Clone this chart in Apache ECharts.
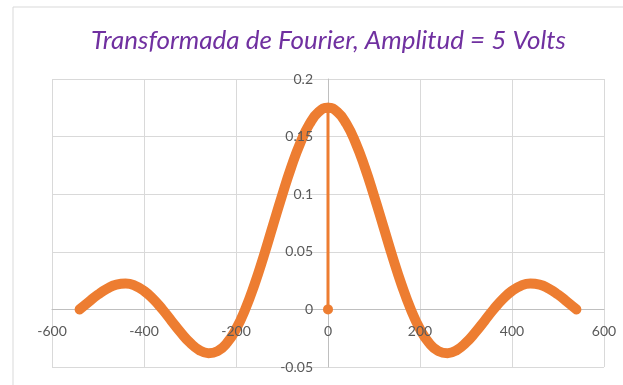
<!DOCTYPE html>
<html>
<head>
<meta charset="utf-8">
<script src="https://cdn.jsdelivr.net/npm/echarts@6/dist/echarts.min.js"></script>
<style>
  html, body { margin: 0; padding: 0; background: #fff; }
  #chart { width: 623px; height: 385px; }
</style>
</head>
<body>
<div id="chart"></div>
<script>
// frecuencia (eje x) y amplitud de la transformada
var freq = [-540, -520, -500, -480, -460, -440, -420, -400, -380, -360, -340, -320, -300, -280,
  -260, -240, -220, -200, -180, -160, -140, -120, -100, -80, -60, -40, -20, 0,
  20, 40, 60, 80, 100, 120, 140, 160, 180, 200, 220, 240, 260, 280,
  300, 320, 340, 360, 380, 400, 420, 440, 460, 480, 500, 520, 540];
var amp = [0, 0.0066, 0.0129, 0.0181, 0.0215, 0.0224, 0.0207, 0.0161, 0.0090, 0, -0.0101, -0.0201, -0.0289, -0.0353,
  -0.0380, -0.0362, -0.0293, -0.0171, 0, 0.0214, 0.0460, 0.0724, 0.0987, 0.1234, 0.1447, 0.1611, 0.1715, 0.175,
  0.1715, 0.1611, 0.1447, 0.1234, 0.0987, 0.0724, 0.0460, 0.0214, 0, -0.0171, -0.0293, -0.0362, -0.0380, -0.0353,
  -0.0289, -0.0201, -0.0101, 0, 0.0090, 0.0161, 0.0207, 0.0224, 0.0215, 0.0181, 0.0129, 0.0066, 0];
// linea vertical en f = 0
var stemX = [0, 0];
var stemY = [0, 0.175];

var curve = freq.map(function (f, i) { return [f, amp[i]]; });
var stem = stemX.map(function (x, i) { return [x, stemY[i]]; });

// grid en pixeles, los ejes se cruzan en (0,0)
var gLeft = 52, gRight = 19, gTop = 79, gBottom = 18;
var gW = 623 - gLeft - gRight, gH = 385 - gTop - gBottom;
var lbl = { color: '#595959', fontSize: 14, fontFamily: 'Lato', margin: 15 };

var myChart = echarts.init(document.getElementById('chart'));
myChart.setOption({
  animation: false,
  title: {
    text: 'Transformada de Fourier, Amplitud = 5 Volts',
    left: 86,
    top: 23,
    textStyle: { color: '#7030A0', fontStyle: 'italic', fontWeight: 'normal', fontSize: 26, fontFamily: 'Lato' }
  },
  graphic: [{
    type: 'polyline',
    shape: { points: [[13, 385], [13, 7], [623, 7]] },
    style: { stroke: '#d9d9d9', fill: null, lineWidth: 1 }
  }],
  grid: { left: gLeft, right: gRight, top: gTop, bottom: gBottom },
  xAxis: [{
    // lineas de rejilla y eje (debajo de la curva)
    type: 'value',
    min: -600, max: 600, interval: 200,
    offset: -gH * 0.05 / 0.25,
    axisLine: { show: true, onZero: false, lineStyle: { color: '#bfbfbf' } },
    axisTick: { show: false },
    axisLabel: { show: false },
    splitLine: { lineStyle: { color: '#d9d9d9' } }
  }, {
    // solo etiquetas (encima de la curva)
    type: 'value',
    position: 'bottom',
    min: -600, max: 600, interval: 200,
    offset: -gH * 0.05 / 0.25,
    z: 5,
    axisLine: { show: false, onZero: false },
    axisTick: { show: false },
    axisLabel: lbl,
    splitLine: { show: false }
  }],
  yAxis: [{
    type: 'value',
    min: -0.05, max: 0.2, interval: 0.05,
    offset: -gW / 2,
    axisLine: { show: true, onZero: false, lineStyle: { color: '#bfbfbf' } },
    axisTick: { show: false },
    axisLabel: { show: false },
    splitLine: { lineStyle: { color: '#d9d9d9' } }
  }, {
    type: 'value',
    position: 'left',
    min: -0.05, max: 0.2, interval: 0.05,
    offset: -gW / 2,
    z: 5,
    axisLine: { show: false, onZero: false },
    axisTick: { show: false },
    axisLabel: lbl,
    splitLine: { show: false }
  }],
  series: [
    {
      type: 'line',
      data: curve,
      smooth: true,
      showSymbol: false,
      lineStyle: { color: '#ED7D31', width: 10, cap: 'round', join: 'round' }
    },
    {
      type: 'line',
      data: stem,
      symbol: 'circle',
      symbolSize: 10,
      itemStyle: { color: '#ED7D31' },
      lineStyle: { color: '#ED7D31', width: 3 },
      z: 1
    }
  ]
});
</script>
</body>
</html>
